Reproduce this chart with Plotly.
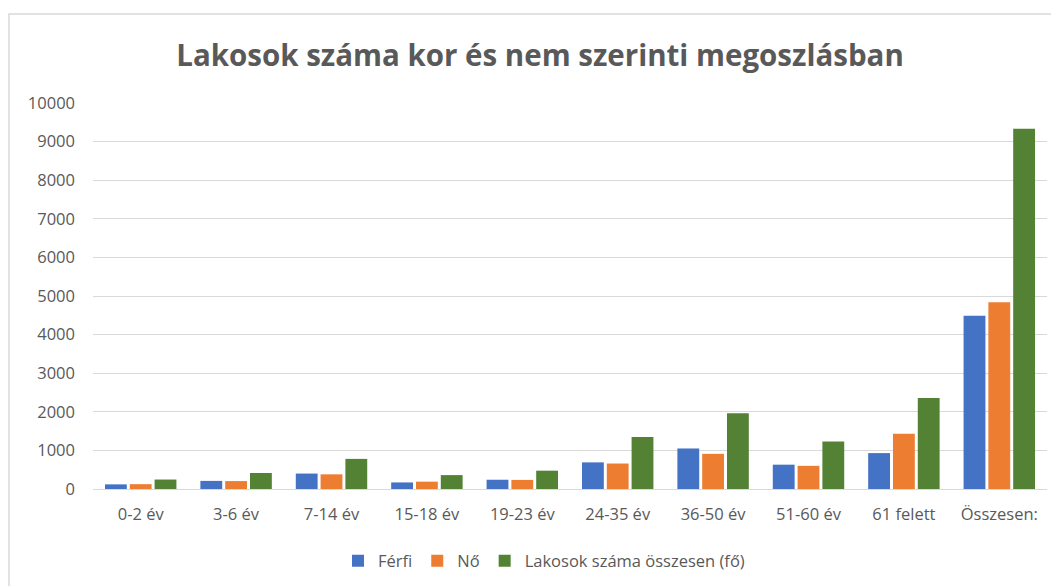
import plotly.graph_objects as go

categories = ["0-2 év", "3-6 év", "7-14 év", "15-18 év", "19-23 év",
              "24-35 év", "36-50 év", "51-60 év", "61 felett", "Összesen:"]
ferfi = [120, 210, 400, 170, 240, 690, 1050, 630, 930, 4490]
no = [125, 205, 380, 190, 235, 660, 910, 600, 1430, 4840]
osszesen = [245, 415, 780, 360, 475, 1350, 1960, 1230, 2360, 9330]
y_ticks = [0, 1000, 2000, 3000, 4000, 5000, 6000, 7000, 8000, 9000, 10000]
y_tick_labels = [str(v) for v in y_ticks]

FONT = "Open Sans"
GRAY = "#595959"

fig = go.Figure()
fig.add_trace(go.Bar(name="Férfi", x=categories, y=ferfi,
                     marker=dict(color="#4472C4", line=dict(width=0))))
fig.add_trace(go.Bar(name="Nő", x=categories, y=no,
                     marker=dict(color="#ED7D31", line=dict(width=0))))
fig.add_trace(go.Bar(name="Lakosok száma összesen (fő)", x=categories, y=osszesen,
                     marker=dict(color="#548235", line=dict(width=0))))

# page body has an 8px margin; work in figure coordinates
W, H = 1051, 578
L, R, T, B = 85, 12, 95, 97
pw, ph = W - L - R, H - T - B
base = H - B

fig.update_layout(
    width=W, height=H,
    margin=dict(l=L, r=R, t=T, b=B, autoexpand=False),
    paper_bgcolor="white", plot_bgcolor="white",
    barmode="group", bargap=0.22, bargroupgap=0.12,
    title=dict(text="<b>Lakosok száma kor és nem szerinti megoszlásban</b>",
               x=532 / W, xanchor="center", y=1 - 48 / H, yanchor="middle",
               font=dict(family=FONT, size=29.5, color=GRAY)),
    font=dict(family=FONT, color=GRAY, size=16),
    legend=dict(orientation="h", x=(536 - L) / pw, xanchor="center",
                y=-(553 - base) / ph, yanchor="middle",
                font=dict(family=FONT, size=16.5, color=GRAY),
                itemwidth=30, traceorder="normal"),
    xaxis=dict(showgrid=False, showline=True, linecolor="#d9d9d9", linewidth=1,
               ticks="", tickfont=dict(family=FONT, size=16.5, color=GRAY),
               ticklabelstandoff=10, automargin=False),
    yaxis=dict(range=[0, 10000], tickvals=y_ticks, ticktext=y_tick_labels,
               showgrid=True, gridcolor="#d9d9d9", gridwidth=1, zeroline=False,
               showline=False, ticks="",
               tickfont=dict(family=FONT, size=16.5, color=GRAY),
               ticklabelstandoff=17, automargin=False),
    shapes=[dict(type="rect", xref="paper", yref="paper",
                 x0=(1 - L) / pw, x1=(1070 - L) / pw,
                 y0=-(600 - base) / ph, y1=(base - 6) / ph,
                 line=dict(color="#d9d9d9", width=1.5), layer="below")],
)

fig.write_html("out.html")
